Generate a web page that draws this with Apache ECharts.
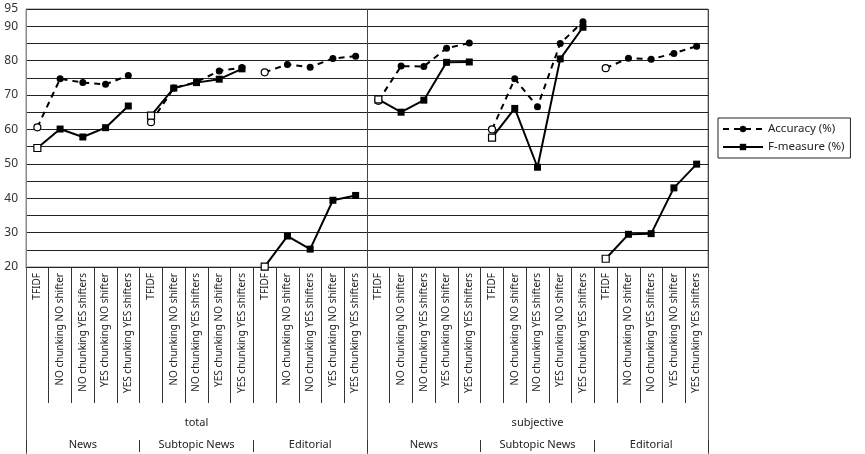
<!DOCTYPE html>
<html>
<head>
<meta charset="utf-8">
<script src="https://cdn.jsdelivr.net/npm/echarts@6/dist/echarts.min.js"></script>
<style>html,body{margin:0;padding:0;background:#fff}#c{width:865px;height:454px}</style>
</head>
<body>
<div id="c"></div>
<script>
const methodLabels = ['TFIDF','NO chunking NO shifter','NO chunking YES shifters','YES chunking NO shifter','YES chunking YES shifters'];
const subgroups = ['News','Subtopic News','Editorial'];
const groups = ['total','subjective'];
const yTickLabels = [20,30,40,50,60,70,80,90,95];

const accuracy = [60.6,74.7,73.6,73.1,75.7, 62.1,72.0,73.8,77.0,78.0, 76.6,78.9,78.1,80.6,81.3,
                  68.3,78.4,78.3,83.6,85.1, 60.0,74.7,66.6,85.0,91.3, 77.8,80.7,80.4,82.1,84.2];
const fmeasure = [54.6,60.1,57.8,60.5,66.8, 64.0,72.0,73.6,74.6,77.6, 20.1,29.0,25.2,39.4,40.8,
                  68.7,65.0,68.5,79.5,79.6, 57.6,66.1,49.0,80.5,89.7, 22.4,29.5,29.7,43.0,49.9];

const categories = [];
const subCats = [];
groups.forEach(g => subgroups.forEach(s => { subCats.push(s); methodLabels.forEach(m => categories.push(m)); }));

const FONT = 'Noto Sans';
const n = methodLabels.length;

function segSeries(name, values, symbol, lineType) {
  const out = [];
  for (let s = 0; s < subCats.length; s++) {
    const data = values.map((v, i) => {
      if (Math.floor(i / n) !== s) return '-';
      if (i % n === 0) return { value: v, itemStyle: { color: '#fff', borderColor: '#000', borderWidth: 1.2 } };
      return v;
    });
    out.push({
      name: name, type: 'line', data: data, symbol: symbol, symbolSize: 7,
      showSymbol: true, connectNulls: false, animation: false,
      itemStyle: { color: '#000' },
      lineStyle: { color: '#000', width: 2, type: lineType }
    });
  }
  return out;
}

const chart = echarts.init(document.getElementById('c'), null, { renderer: 'canvas' });
chart.setOption({
  backgroundColor: '#fff',
  animation: false,
  textStyle: { fontFamily: FONT },
  grid: { left: 26, right: 157, top: 9, bottom: 187, show: true, borderColor: '#888', borderWidth: 1, backgroundColor: 'transparent' },
  legend: {
    data: ['Accuracy (%)', 'F-measure (%)'],
    orient: 'vertical', left: 718, top: 118,
    borderColor: '#222', borderWidth: 1, padding: [5, 6, 5, 4], itemGap: 6,
    itemWidth: 40, itemHeight: 8,
    textStyle: { fontSize: 11.5, color: '#222', fontFamily: FONT }
  },
  xAxis: [
    {
      type: 'category', data: categories, boundaryGap: true, position: 'bottom',
      axisLine: { show: true, lineStyle: { color: '#222' } },
      axisTick: { show: true, interval: 0, length: 136, lineStyle: { color: '#333' } },
      axisLabel: { interval: 0, rotate: 90, fontSize: 10, color: '#222', margin: 6, fontFamily: FONT },
      splitLine: { show: false }
    },
    {
      type: 'category', data: groups, boundaryGap: true, position: 'bottom',
      axisLine: { show: false },
      axisTick: { show: true, interval: 0, length: 187, lineStyle: { color: '#555' } },
      axisLabel: { interval: 0, fontSize: 11, color: '#222', margin: 150, fontFamily: FONT },
      splitLine: { show: true, interval: 0, lineStyle: { color: '#444', width: 1 } }
    },
    {
      type: 'category', data: subCats, boundaryGap: true, position: 'bottom', offset: 173,
      axisLine: { show: false },
      axisTick: { show: true, interval: 0, length: 12, lineStyle: { color: '#333' } },
      axisLabel: { interval: 0, fontSize: 11, color: '#222', margin: -1, fontFamily: FONT },
      splitLine: { show: false }
    }
  ],
  yAxis: {
    type: 'value', min: 20, max: 95, interval: 5,
    axisLine: { show: true, lineStyle: { color: '#888' } },
    axisTick: { show: false },
    axisLabel: {
      fontSize: 12, color: '#333', margin: 8, fontFamily: FONT,
      formatter: v => (yTickLabels.indexOf(v) >= 0 ? String(v) : '')
    },
    splitLine: { show: true, lineStyle: { color: '#222', width: 1 } }
  },
  series: [].concat(
    segSeries('Accuracy (%)', accuracy, 'circle', [6, 5]),
    segSeries('F-measure (%)', fmeasure, 'rect', 'solid')
  )
});
</script>
</body>
</html>
